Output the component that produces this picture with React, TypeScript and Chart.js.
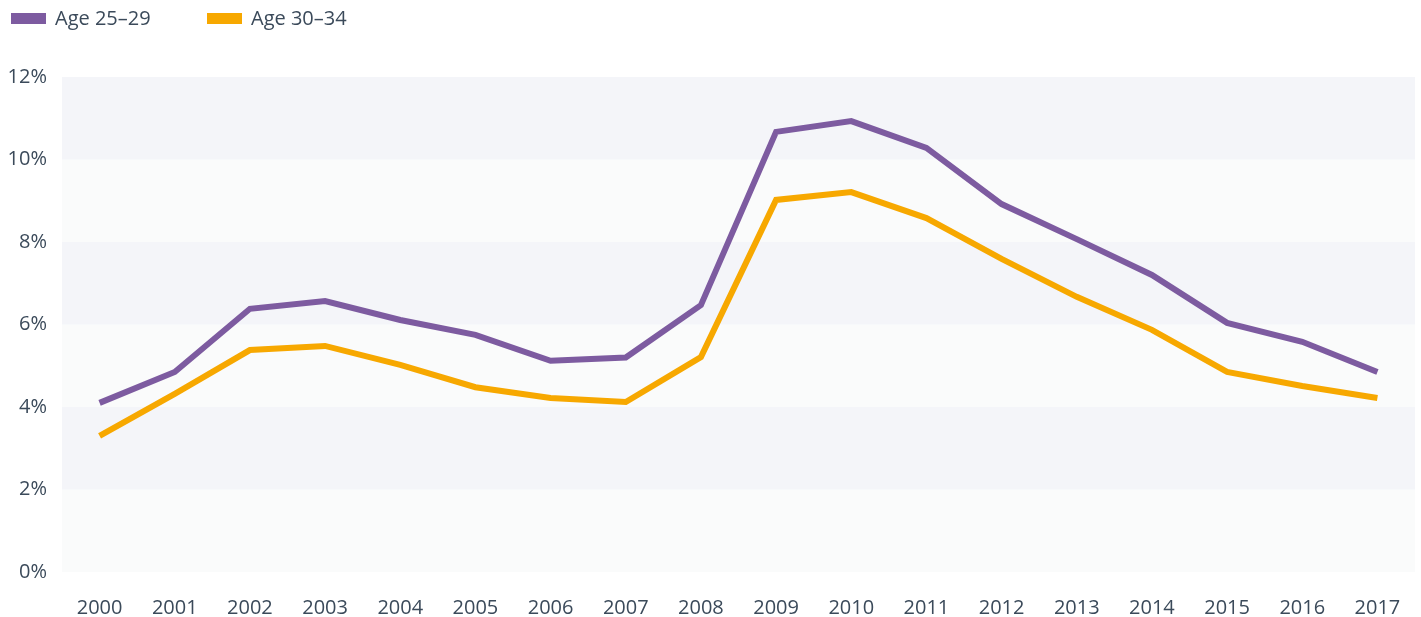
import React, { useEffect, useRef } from "react";
import { Chart, registerables } from "chart.js";

Chart.register(...registerables);

const years = ["2000","2001","2002","2003","2004","2005","2006","2007","2008","2009","2010","2011","2012","2013","2014","2015","2016","2017"];
const age2529 = [4.1, 4.85, 6.38, 6.57, 6.11, 5.75, 5.12, 5.2, 6.47, 10.67, 10.93, 10.28, 8.92, 8.07, 7.2, 6.04, 5.58, 4.85];
const age3034 = [3.3, 4.32, 5.38, 5.48, 5.02, 4.48, 4.22, 4.12, 5.21, 9.02, 9.21, 8.58, 7.59, 6.67, 5.87, 4.85, 4.51, 4.22];
const seriesLabels = ["Age 25\u201329", "Age 30\u201334"];
const seriesColors = ["#7d5ba0", "#f7a800"];
const yTicks = [0, 2, 4, 6, 8, 10, 12];

const FONT = "'Open Sans', sans-serif";
const TEXT = "#3b4a5a";

const bandPlugin = {
  id: "bands",
  beforeDatasetsDraw(chart: any) {
    const { ctx, chartArea, scales } = chart;
    const y = scales.y;
    ctx.save();
    for (let i = 0; i < yTicks.length - 1; i++) {
      const y0 = y.getPixelForValue(yTicks[i]);
      const y1 = y.getPixelForValue(yTicks[i + 1]);
      ctx.fillStyle = i % 2 === 0 ? "#fafbfb" : "#f4f5f9";
      ctx.fillRect(chartArea.left, y1, chartArea.right - chartArea.left, y0 - y1);
    }
    ctx.restore();
  },
};

const legendXs = [11, 207];
const legendPlugin = {
  id: "customLegend",
  afterDraw(chart: any) {
    const { ctx } = chart;
    ctx.save();
    ctx.font = `20px ${FONT}`;
    ctx.textBaseline = "middle";
    ctx.textAlign = "left";
    chart.data.datasets.forEach((ds: any, i: number) => {
      const x = legendXs[i];
      ctx.fillStyle = ds.borderColor;
      ctx.fillRect(x, 13, 35, 11);
      ctx.fillStyle = TEXT;
      ctx.fillText(ds.label, x + 44, 19);
    });
    ctx.restore();
  },
};

export default function App() {
  const ref = useRef<HTMLCanvasElement>(null);
  useEffect(() => {
    if (!ref.current) return;
    const chart = new Chart(ref.current, {
      type: "line",
      data: {
        labels: years,
        datasets: [
          { label: seriesLabels[0], data: age2529, borderColor: seriesColors[0], backgroundColor: seriesColors[0], borderWidth: 6, pointRadius: 0, tension: 0 },
          { label: seriesLabels[1], data: age3034, borderColor: seriesColors[1], backgroundColor: seriesColors[1], borderWidth: 6, pointRadius: 0, tension: 0 },
        ],
      },
      options: {
        animation: false,
        responsive: true,
        maintainAspectRatio: false,
        layout: { padding: { top: 77, right: 6, left: 0, bottom: 0 } },
        plugins: { legend: { display: false }, tooltip: { enabled: false } },
        scales: {
          x: {
            offset: true,
            grid: { display: false, drawTicks: false },
            border: { display: false },
            ticks: { color: TEXT, font: { family: FONT, size: 20 }, padding: 24, maxRotation: 0, autoSkip: false },
            afterFit: (s: any) => { s.height = 45; s.paddingLeft = 0; s.paddingRight = 0; },
          },
          y: {
            min: 0,
            max: 12,
            grid: { display: false, drawTicks: false },
            border: { display: false },
            ticks: { stepSize: 2, color: TEXT, font: { family: FONT, size: 20 }, padding: 15, callback: (v: any) => v + "%" },
            afterFit: (s: any) => { s.width = 62; },
          },
        },
      },
      plugins: [bandPlugin, legendPlugin],
    });
    return () => chart.destroy();
  }, []);
  return (
    <div style={{ position: "absolute", left: 0, top: 0, width: 1421, height: 617 }}>
      <canvas ref={ref} />
    </div>
  );
}
